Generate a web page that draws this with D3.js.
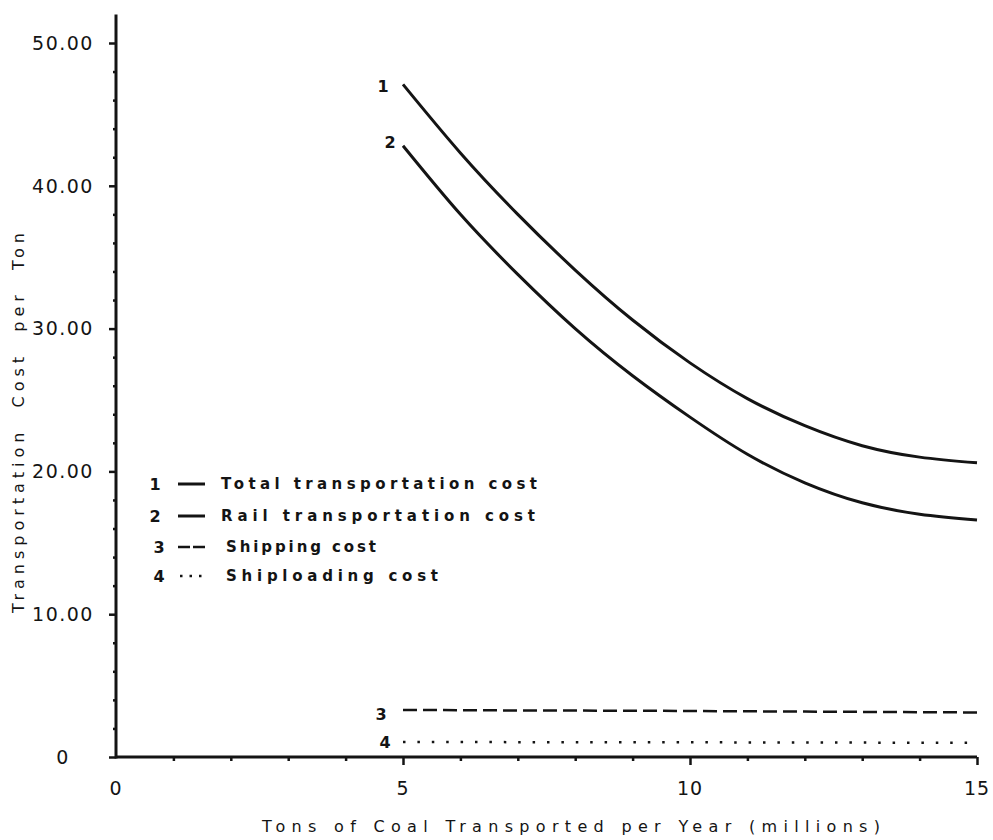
<!DOCTYPE html>
<html>
<head>
<meta charset="utf-8">
<script src="https://cdn.jsdelivr.net/npm/d3@7/dist/d3.min.js"></script>
<style>
  body { margin: 0; background: #fff; }
  svg { display: block; font-family: "DejaVu Sans", sans-serif; }
</style>
</head>
<body>
<div id="chart"></div>
<script>
// Transportation cost per ton vs. annual tonnage
const tons = [5, 6, 7, 8, 9, 10, 11, 12, 13, 14, 15];
const totalCost = [47.1, 42.3, 38.0, 34.1, 30.6, 27.6, 25.1, 23.2, 21.8, 21.0, 20.6];
const railCost = [42.8, 38.0, 33.8, 30.0, 26.7, 23.8, 21.2, 19.2, 17.8, 17.0, 16.6];
const shippingCost = [3.3, 3.28, 3.26, 3.25, 3.24, 3.22, 3.2, 3.18, 3.16, 3.14, 3.12];
const loadingCost = [1.05, 1.05, 1.04, 1.04, 1.03, 1.03, 1.02, 1.02, 1.01, 1.0, 1.0];

const seriesIds = ['1', '2', '3', '4'];
const legendLabels = [
  'Total transportation cost',
  'Rail transportation cost',
  'Shipping cost',
  'Shiploading cost'
];

const yTickValues = [0, 10, 20, 30, 40, 50];
const yMinorTicks = [2, 4, 6, 8, 12, 14, 16, 18, 22, 24, 26, 28, 32, 34, 36, 38, 42, 44, 46, 48];
const xTickValues = [0, 5, 10, 15];
const xMinorTicks = [1, 2, 3, 4, 6, 7, 8, 9, 11, 12, 13, 14];

const W = 993, H = 840;
const ink = '#141414';

const svg = d3.select('#chart').append('svg')
  .attr('width', W)
  .attr('height', H);

const x = d3.scaleLinear().domain([0, 15]).range([116, 977]);
const y = d3.scaleLinear().domain([0, 50]).range([757, 43]);

// axis lines
svg.append('line')
  .attr('x1', x(0)).attr('x2', x(0))
  .attr('y1', y(0) + 1.5).attr('y2', y(52))
  .attr('stroke', ink).attr('stroke-width', 3);
svg.append('line')
  .attr('x1', x(0)).attr('x2', x(15))
  .attr('y1', y(0)).attr('y2', y(0))
  .attr('stroke', ink).attr('stroke-width', 3);

// y axis ticks
const yAxis = svg.append('g')
  .attr('transform', `translate(${x(0)},0)`)
  .call(d3.axisLeft(y).tickValues(yTickValues).tickSize(7).tickFormat(''));
yAxis.select('.domain').remove();
yAxis.selectAll('line').attr('stroke', ink).attr('stroke-width', 2.5);

const yMinor = svg.append('g')
  .attr('transform', `translate(${x(0)},0)`)
  .call(d3.axisLeft(y).tickValues(yMinorTicks).tickSize(3).tickFormat(''));
yMinor.select('.domain').remove();
yMinor.selectAll('line').attr('stroke', ink).attr('stroke-width', 2.5);

svg.append('g').selectAll('text')
  .data(yTickValues)
  .join('text')
  .attr('x', 63)
  .attr('y', d => y(d))
  .attr('dy', '0.36em')
  .attr('text-anchor', 'middle')
  .attr('font-size', 19)
  .attr('letter-spacing', 1.5)
  .attr('fill', ink)
  .text(d => d === 0 ? '0' : d3.format('.2f')(d));

// x axis ticks
const xAxis = svg.append('g')
  .attr('transform', `translate(0,${y(0)})`)
  .call(d3.axisBottom(x).tickValues(xTickValues.filter(d => d > 0)).tickSize(8).tickFormat(''));
xAxis.select('.domain').remove();
xAxis.selectAll('line').attr('stroke', ink).attr('stroke-width', 2.5);

const xMinor = svg.append('g')
  .attr('transform', `translate(0,${y(0)})`)
  .call(d3.axisBottom(x).tickValues(xMinorTicks).tickSize(4).tickFormat(''));
xMinor.select('.domain').remove();
xMinor.selectAll('line').attr('stroke', ink).attr('stroke-width', 2.5);

svg.append('g').selectAll('text')
  .data(xTickValues)
  .join('text')
  .attr('x', d => x(d))
  .attr('y', 795)
  .attr('text-anchor', 'middle')
  .attr('font-size', 19)
  .attr('letter-spacing', 1)
  .attr('fill', ink)
  .text(d => d);

// axis titles
svg.append('text')
  .attr('x', 571)
  .attr('y', 832)
  .attr('text-anchor', 'middle')
  .attr('font-size', 16)
  .attr('textLength', 618)
  .attr('lengthAdjust', 'spacing')
  .attr('fill', ink)
  .text('Tons of Coal Transported per Year (millions)');

svg.append('text')
  .attr('transform', 'translate(24,423) rotate(-90)')
  .attr('text-anchor', 'middle')
  .attr('font-size', 16)
  .attr('textLength', 380)
  .attr('lengthAdjust', 'spacing')
  .attr('fill', ink)
  .text('Transportation\u00a0\u00a0Cost\u00a0\u00a0per\u00a0\u00a0Ton');

// curves
const line = d3.line()
  .x((d, i) => x(tons[i]))
  .y(d => y(d))
  .curve(d3.curveNatural);

const seriesData = [totalCost, railCost, shippingCost, loadingCost];
const dashes = [null, null, '14 6', '2.5 11.9'];
const widths = [3, 3, 2.5, 2.5];

svg.append('g').selectAll('path')
  .data(seriesData)
  .join('path')
  .attr('d', line)
  .attr('fill', 'none')
  .attr('stroke', ink)
  .attr('stroke-width', (d, i) => widths[i])
  .attr('stroke-dasharray', (d, i) => dashes[i]);

// curve number labels at the left end of each curve
const labelOffsets = [[-20, 2], [-13, -4], [-22, 4], [-18, 0]];
svg.append('g').selectAll('text')
  .data(seriesData)
  .join('text')
  .attr('x', (d, i) => x(tons[0]) + labelOffsets[i][0])
  .attr('y', (d, i) => y(d[0]) + labelOffsets[i][1])
  .attr('dy', '0.36em')
  .attr('text-anchor', 'middle')
  .attr('font-size', 16)
  .attr('font-weight', 'bold')
  .attr('fill', ink)
  .text((d, i) => seriesIds[i]);

// legend
const legendY = [484, 516, 547, 576];
const legend = svg.append('g');
legendLabels.forEach((label, i) => {
  const g = legend.append('g').attr('transform', `translate(0,${legendY[i]})`);
  g.append('text')
    .attr('x', 155 + (i > 1 ? 4 : 0))
    .attr('dy', '0.36em')
    .attr('text-anchor', 'middle')
    .attr('font-size', 16)
    .attr('font-weight', 'bold')
    .attr('fill', ink)
    .text(seriesIds[i]);
  g.append('line')
    .attr('x1', i === 3 ? 180 : 178)
    .attr('x2', 205)
    .attr('stroke', ink)
    .attr('stroke-width', i < 2 ? 3 : 2.5)
    .attr('stroke-dasharray', i === 2 ? '12 3' : i === 3 ? '2.5 7' : null);
  g.append('text')
    .attr('x', i < 2 ? 221 : 226)
    .attr('dy', '0.36em')
    .attr('font-size', 15)
    .attr('font-weight', 'bold')
    .attr('textLength', [316, 314, 150, 212][i])
    .attr('lengthAdjust', 'spacing')
    .attr('fill', ink)
    .text(label);
});
</script>
</body>
</html>
